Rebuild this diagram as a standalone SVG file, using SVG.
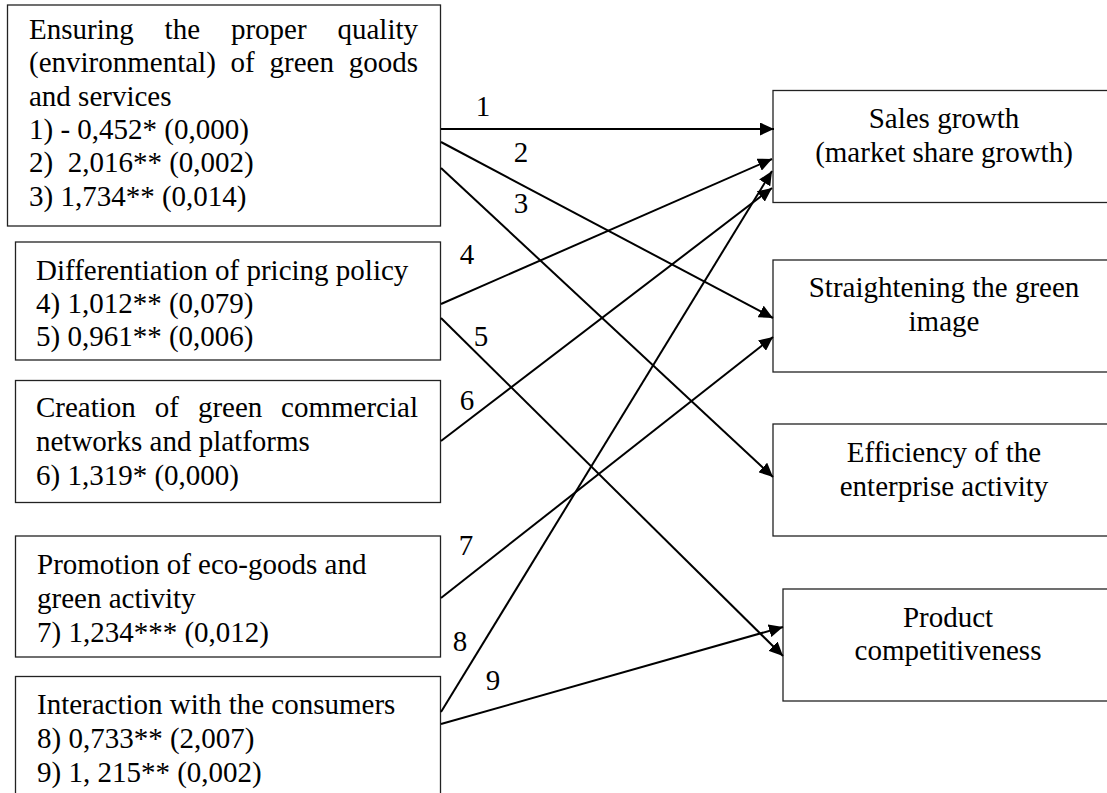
<svg xmlns="http://www.w3.org/2000/svg" width="1107" height="793" viewBox="0 0 1107 793">
<style>
.box{fill:#fff;stroke:#222;stroke-width:1.3}
.t{font-family:"Liberation Serif","Times New Roman",serif;font-size:29px;fill:#000}
.c{text-anchor:middle}
.conn line{stroke:#000;stroke-width:2;marker-end:url(#ah)}
</style>
<defs>
<marker id="ah" markerUnits="userSpaceOnUse" markerWidth="14" markerHeight="13" refX="14" refY="6.5" orient="auto" viewBox="0 0 14 13">
<path d="M0,0 L14,6.5 L0,13 z" fill="#000"/>
</marker>
</defs>
<rect width="1107" height="793" fill="#fff"/>

<g id="n-quality">
<rect class="box" x="7.5" y="5" width="433" height="221"/>
<text class="t" y="39"><tspan x="29">Ensuring</tspan><tspan x="164.6">the</tspan><tspan x="230.9">proper</tspan><tspan x="337.5">quality</tspan></text>
<text class="t" y="72"><tspan x="29">(environmental)</tspan><tspan x="230.6">of</tspan><tspan x="269.6">green</tspan><tspan x="348.7">goods</tspan></text>
<text class="t" x="29" y="105.5">and services</text>
<text class="t" x="29" y="139">1) - 0,452* (0,000)</text>
<text class="t" x="29" y="172">2)&#160; 2,016** (0,002)</text>
<text class="t" x="29" y="205.5">3) 1,734** (0,014)</text>
</g>

<g id="n-pricing">
<rect class="box" x="15.5" y="242" width="425" height="118"/>
<text class="t" x="36" y="280">Differentiation of pricing policy</text>
<text class="t" x="36" y="313">4) 1,012** (0,079)</text>
<text class="t" x="36" y="346">5) 0,961** (0,006)</text>
</g>

<g id="n-networks">
<rect class="box" x="15.5" y="380.5" width="425" height="122"/>
<text class="t" y="417"><tspan x="36">Creation</tspan><tspan x="154.8">of</tspan><tspan x="197.9">green</tspan><tspan x="281.1">commercial</tspan></text>
<text class="t" x="36" y="451">networks and platforms</text>
<text class="t" x="36" y="485">6) 1,319* (0,000)</text>
</g>

<g id="n-promotion">
<rect class="box" x="15.5" y="536" width="425" height="121"/>
<text class="t" x="37" y="574">Promotion of eco-goods and</text>
<text class="t" x="37" y="608">green activity</text>
<text class="t" x="37" y="642">7) 1,234*** (0,012)</text>
</g>

<g id="n-consumers">
<rect class="box" x="15.5" y="676.5" width="425" height="140"/>
<text class="t" x="37" y="714">Interaction with the consumers</text>
<text class="t" x="37" y="748">8) 0,733** (2,007)</text>
<text class="t" x="37" y="782">9) 1, 215** (0,002)</text>
</g>

<g id="n-sales">
<rect class="box" x="773" y="90.5" width="345" height="112"/>
<text class="t c" x="944" y="128">Sales growth</text>
<text class="t c" x="944" y="162">(market share growth)</text>
</g>

<g id="n-image">
<rect class="box" x="773" y="260" width="345" height="112"/>
<text class="t c" x="944" y="297">Straightening the green</text>
<text class="t c" x="944" y="331">image</text>
</g>

<g id="n-efficiency">
<rect class="box" x="773" y="424" width="345" height="112"/>
<text class="t c" x="944" y="462">Efficiency of the</text>
<text class="t c" x="944" y="496">enterprise activity</text>
</g>

<g id="n-competitiveness">
<rect class="box" x="783" y="589" width="345" height="112"/>
<text class="t c" x="948" y="627">Product</text>
<text class="t c" x="948" y="660">competitiveness</text>
</g>

<g id="connectors" class="conn">
<line x1="441" y1="129" x2="774" y2="129"/>
<line x1="441" y1="142" x2="773" y2="318"/>
<line x1="441" y1="168" x2="773" y2="477"/>
<line x1="441" y1="304" x2="772" y2="159"/>
<line x1="441" y1="318" x2="783" y2="656"/>
<line x1="441" y1="441" x2="772" y2="188"/>
<line x1="441" y1="598" x2="773" y2="337"/>
<line x1="441" y1="712" x2="772" y2="171"/>
<line x1="441" y1="724" x2="783" y2="627"/>
<text class="t c" x="483" y="116">1</text>
<text class="t c" x="521" y="162">2</text>
<text class="t c" x="521" y="213">3</text>
<text class="t c" x="467" y="264">4</text>
<text class="t c" x="481" y="346">5</text>
<text class="t c" x="467" y="410">6</text>
<text class="t c" x="466" y="555">7</text>
<text class="t c" x="460" y="651">8</text>
<text class="t c" x="493" y="690">9</text>
</g>
</svg>
